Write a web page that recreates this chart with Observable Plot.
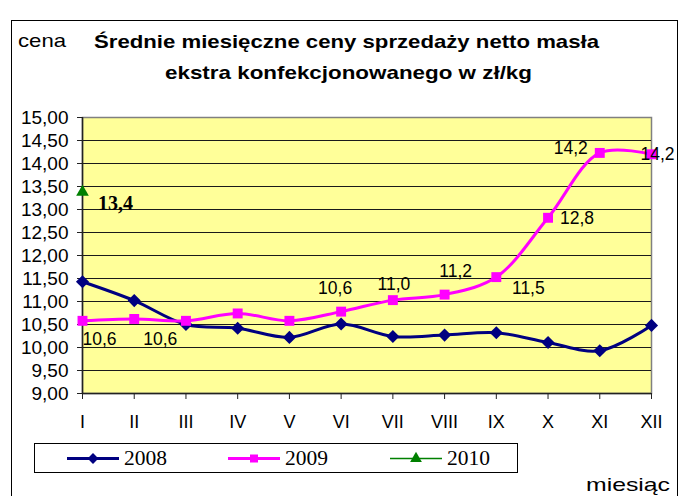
<!DOCTYPE html>
<html>
<head>
<meta charset="utf-8">
<script src="https://cdn.jsdelivr.net/npm/d3@7"></script>
<script src="https://cdn.jsdelivr.net/npm/@observablehq/plot@0.6"></script>
<style>
  html, body { margin: 0; padding: 0; background: #fff; }
  #wrap { position: relative; width: 681px; height: 496px; overflow: hidden; }
  #wrap svg { position: absolute; left: 0; top: 0; }
</style>
</head>
<body>
<div id="wrap"></div>
<script>
// ---- data ----
const months = ["I","II","III","IV","V","VI","VII","VIII","IX","X","XI","XII"];
const values2008 = [11.43, 11.02, 10.50, 10.42, 10.22, 10.51, 10.24, 10.27, 10.32, 10.11, 9.93, 10.48];
const values2009 = [10.58, 10.62, 10.58, 10.74, 10.58, 10.78, 11.03, 11.15, 11.53, 12.82, 14.23, 14.20];
const months2010 = ["I"];
const values2010 = [13.38];
const labels2009 = ["10,6","10,6","","","","10,6","11,0","11,2","11,5","12,8","14,2","14,2"];
const labels2010 = ["13,4"];
const yTicks = [9, 9.5, 10, 10.5, 11, 11.5, 12, 12.5, 13, 13.5, 14, 14.5, 15];
const seriesNames = ["2008", "2009", "2010"];
const titleLines = ["Średnie miesięczne ceny sprzedaży netto masła", "ekstra konfekcjonowanego w zł/kg"];
const yAxisTitle = "cena";
const xAxisTitle = "miesiąc";

// ---- tables ----
const d2008 = months.map((m, i) => ({month: m, value: values2008[i]}));
const d2009 = months.map((m, i) => ({month: m, value: values2009[i], label: labels2009[i]}));
const d2010 = months2010.map((m, i) => ({month: m, value: values2010[i], label: labels2010[i]}));

// label placement (layout, not data)
const labelOffsets = {
  "I": [17, 19], "II": [26, 20], "VI": [-6, -23], "VII": [1, -16], "VIII": [11, -23],
  "IX": [32, 11], "X": [29, 1], "XI": [-29, -5], "XII": [6, 0]
};

const C2008 = "#000080", C2009 = "#ff00ff", C2010 = "#008000";
const fmt = d => d.toFixed(2).replace(".", ",");

const labelMarks = d2009.filter(d => d.label).map(d =>
  Plot.text([d], {x: "month", y: "value", text: "label",
    dx: labelOffsets[d.month][0], dy: labelOffsets[d.month][1],
    fontSize: 17.5, fill: "#000", textAnchor: "middle"})
);

const plot = Plot.plot({
  width: 681,
  height: 496,
  marginLeft: 82,
  marginRight: 30,
  marginTop: 117,
  marginBottom: 103,
  style: {fontFamily: "'Liberation Sans', Arial, sans-serif", fontSize: "18px", background: "transparent", color: "#000", overflow: "visible"},
  x: {type: "point", domain: months, padding: 0, round: false},
  y: {domain: [9, 15]},
  marks: [
    Plot.frame({fill: "#ffff99", stroke: "#808080", strokeWidth: 1.5}),
    Plot.gridY(yTicks.filter(t => t > 9 && t < 15), {stroke: "#1a1a1a", strokeOpacity: 1, strokeWidth: 1}),
    Plot.ruleX([months[0]], {stroke: "#222", strokeWidth: 1.5}),
    Plot.ruleY([9], {stroke: "#222", strokeWidth: 1.5}),
    Plot.axisY(yTicks, {tickSize: 5, tickPadding: 9, tickFormat: fmt, fontSize: 19, label: null, stroke: "#222"}),
    Plot.axisX({tickSize: 6, tickPadding: 16, fontSize: 18, label: null, stroke: "#222"}),
    Plot.line(d2008, {x: "month", y: "value", stroke: C2008, strokeWidth: 3, curve: "catmull-rom"}),
    Plot.dot(d2008, {x: "month", y: "value", symbol: "diamond2", fill: C2008, stroke: null, r: 5.9}),
    Plot.line(d2009, {x: "month", y: "value", stroke: C2009, strokeWidth: 3, curve: "catmull-rom"}),
    Plot.dot(d2009, {x: "month", y: "value", symbol: "square", fill: C2009, stroke: null, r: 5.6}),
    Plot.dot(d2010, {x: "month", y: "value", symbol: "triangle", fill: C2010, stroke: null, r: 4.7}),
    ...labelMarks,
    Plot.text(d2010, {x: "month", y: "value", text: "label", dx: 33, dy: 12, fontSize: 20, fontWeight: "bold",
      fontFamily: "'Liberation Serif', 'Times New Roman', serif", fill: "#000", textAnchor: "middle"})
  ]
});

const wrap = document.getElementById("wrap");
wrap.appendChild(plot);

// ---- overlay: frame, titles, legend ----
const ov = d3.select(wrap).append("svg")
  .attr("width", 681).attr("height", 496)
  .style("pointer-events", "none");

ov.append("rect").attr("x", 11.5).attr("y", 20.5).attr("width", 666).attr("height", 520)
  .attr("fill", "none").attr("stroke", "#000").attr("stroke-width", 1);

const sans = "'Liberation Sans', Arial, sans-serif";
const serif = "'Liberation Serif', 'Times New Roman', serif";

function txt(x, y, s, size, opts = {}) {
  const t = ov.append("text").attr("x", x).attr("y", y).text(s)
    .attr("font-family", opts.family || sans).attr("font-size", size)
    .attr("font-weight", opts.weight || "normal").attr("fill", "#000");
  if (opts.len) t.attr("textLength", opts.len).attr("lengthAdjust", "spacingAndGlyphs");
  return t;
}

txt(18, 47, yAxisTitle, 19, {len: 48});
txt(94, 47.5, titleLines[0], 18.5, {weight: "bold", len: 505});
txt(165, 78.5, titleLines[1], 18.5, {weight: "bold", len: 367});
txt(586, 491, xAxisTitle, 19, {len: 84});

// legend
ov.append("rect").attr("x", 34.5).attr("y", 443.5).attr("width", 483).attr("height", 29)
  .attr("fill", "#fff").attr("stroke", "#000").attr("stroke-width", 1);

const legendItems = [
  {name: seriesNames[0], color: C2008, sym: d3.symbolDiamond2, size: 75, x0: 67, x1: 119, tx: 124},
  {name: seriesNames[1], color: C2009, sym: d3.symbolSquare, size: 64, x0: 228, x1: 280, tx: 285},
  {name: seriesNames[2], color: C2010, sym: d3.symbolTriangle, size: 60, x0: 390, x1: 442, tx: 447}
];
const ly = 458.5;
legendItems.forEach(it => {
  ov.append("line").attr("x1", it.x0).attr("x2", it.x1).attr("y1", ly).attr("y2", ly)
    .attr("stroke", it.color).attr("stroke-width", it.name === "2010" ? 1.5 : 3);
  ov.append("path").attr("d", d3.symbol(it.sym, it.size)())
    .attr("transform", `translate(${(it.x0 + it.x1) / 2},${ly})`).attr("fill", it.color);
  txt(it.tx, 465, it.name, 20, {family: serif, len: 43});
});
</script>
</body>
</html>
